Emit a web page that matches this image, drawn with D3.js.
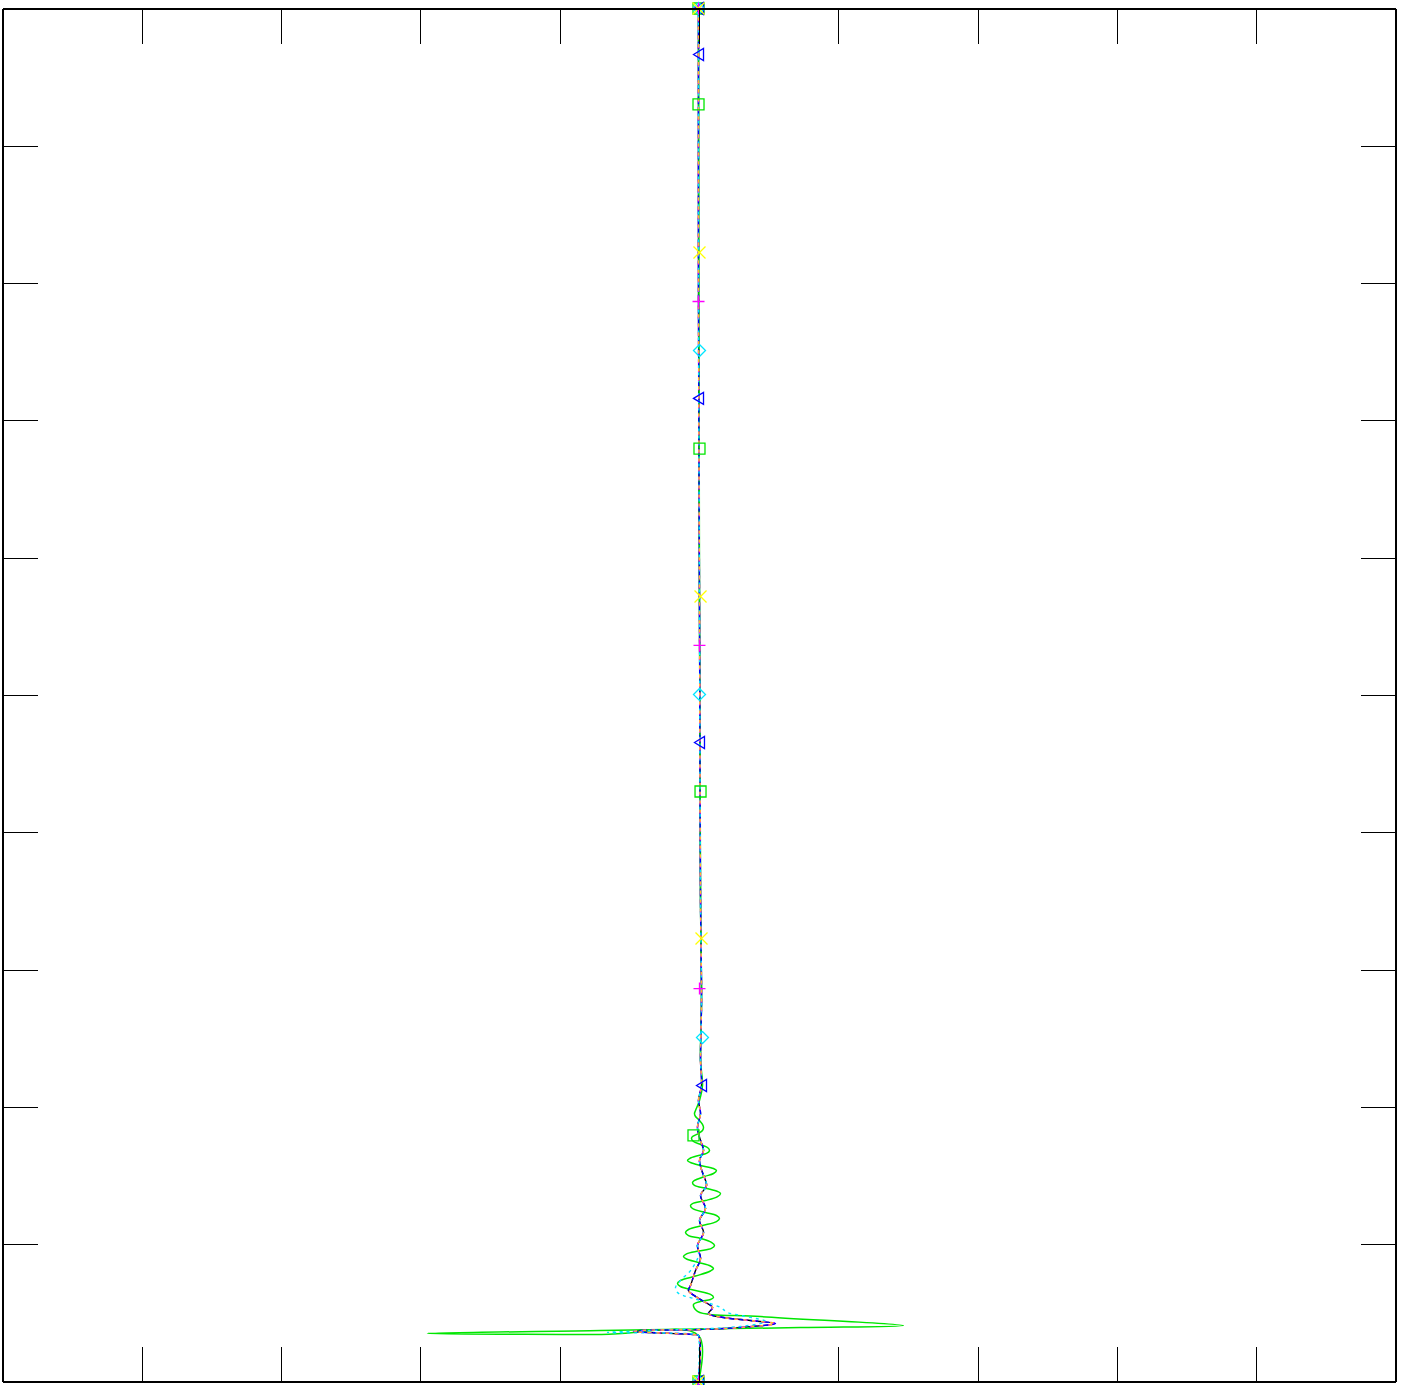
<!DOCTYPE html>
<html>
<head>
<meta charset="utf-8">
<script src="https://cdn.jsdelivr.net/npm/d3@7"></script>
<style>
  html, body { margin: 0; padding: 0; background: #fff; }
  svg { display: block; }
</style>
</head>
<body>
<svg id="chart" width="1401" height="1385"></svg>
<script>
// ---------- data (x in [-100,100], y in [0,100]) ----------
const xTicks = [-100, -80, -60, -40, -20, 0, 20, 40, 60, 80, 100];
const yTicks = [0, 10, 20, 30, 40, 50, 60, 70, 80, 90, 100];

const centralPath = [
  [-0.07, 100], [-0.07, 78.73], [0.07, 56.88], [0.22, 35.03], [0.36, 27.75],
  [0.22, 23.38], [0.36, 21.56], [-0.07, 20.47], [0.22, 19.52], [-0.22, 18.50],
  [0.22, 17.55], [0.65, 16.82], [0.07, 16.10], [0.50, 15.22], [1.08, 14.28],
  [0.22, 13.55], [0.93, 12.60], [0.07, 11.73], [0.65, 10.85], [-0.22, 9.91],
  [0.22, 8.96], [-0.50, 8.08], [-1.22, 6.99], [-1.51, 6.63], [-0.07, 6.05],
  [1.94, 5.39], [1.36, 4.95], [3.52, 4.66], [7.39, 4.44], [10.98, 4.22],
  [5.96, 3.93], [0.22, 3.79], [-8.40, 3.71], [-9.40, 3.64], [-0.79, 3.42],
  [-0.07, 3.35], [-0.07, 0]
];

const greenPath = [
  [-0.07, 100], [0.07, 56.88], [0.22, 35.03], [0.36, 27.75], [0.22, 23.38],
  [0.50, 21.56], [0.07, 20.47],
  [-0.50, 19.74], [-0.65, 19.52], [-0.50, 19.30],
  [0.07, 19.01],
  [0.50, 18.72], [0.65, 18.50], [0.50, 18.28],
  [-0.07, 18.06],
  [-0.93, 17.84], [-1.08, 17.70], [-0.79, 17.48],
  [0.22, 17.26],
  [1.22, 17.04], [1.51, 16.82], [1.08, 16.61],
  [-0.07, 16.46],
  [-1.36, 16.24], [-1.65, 16.10], [-1.22, 15.95],
  [0.22, 15.73],
  [2.08, 15.51], [2.51, 15.37], [2.08, 15.15],
  [0.79, 14.93],
  [-0.65, 14.64], [-0.93, 14.49], [-0.65, 14.28],
  [1.08, 14.06],
  [2.66, 13.84], [3.09, 13.69], [2.66, 13.47],
  [0.93, 13.18],
  [-0.93, 12.96], [-1.22, 12.82], [-0.93, 12.60],
  [0.93, 12.31],
  [2.51, 12.09], [2.94, 11.87], [2.51, 11.65],
  [0.50, 11.36],
  [-1.51, 11.07], [-1.94, 10.85], [-1.51, 10.63],
  [0.22, 10.42],
  [1.79, 10.13], [2.23, 9.91], [1.79, 9.69],
  [-0.07, 9.50],
  [-1.79, 9.29], [-2.23, 9.10], [-1.79, 8.92],
  [-0.07, 8.67],
  [1.65, 8.41], [2.08, 8.23], [1.65, 8.05],
  [-0.50, 7.68],
  [-2.66, 7.36], [-3.09, 7.14], [-2.66, 6.92],
  [-0.50, 6.63],
  [1.65, 6.34], [2.08, 6.12], [1.65, 5.97],
  [0.22, 5.83], [-0.79, 5.61], [-0.22, 5.10],
  [8.83, 4.73], [29.36, 4.08], [14.57, 3.93], [-14.14, 3.71],
  [-38.98, 3.50], [-14.14, 3.42], [-0.07, 3.35], [-0.07, 0]
];

const cyanPath = [
  [-0.07, 100], [-0.07, 78.73], [0.07, 56.88], [0.22, 35.03], [0.36, 27.75],
  [0.22, 23.38], [0.36, 21.56], [-0.07, 20.47], [0.22, 19.52], [-0.22, 18.50],
  [0.22, 17.55], [0.65, 16.82], [0.07, 16.10], [0.50, 15.22], [1.08, 14.28],
  [0.22, 13.55], [0.93, 12.60], [0.07, 11.73], [0.65, 10.85], [-0.22, 9.91],
  [-0.07, 9.18], [-1.22, 8.08], [-2.66, 7.36], [-3.37, 6.85], [-3.09, 6.48],
  [-2.23, 6.26], [-0.79, 6.05], [3.09, 5.39], [4.09, 5.03], [5.96, 4.81],
  [9.55, 4.37], [5.96, 4.01], [-6.96, 3.71], [-13.14, 3.57], [-0.22, 3.42],
  [-0.07, 3.35], [-0.07, 0]
];

const triMarkers = [[-0.07, 100], [-0.07, 96.65], [-0.07, 71.60], [0.07, 46.54], [0.36, 21.56], [-0.07, 0]];
const sqMarkers = [[-0.07, 100], [-0.07, 93.01], [0.07, 67.95], [0.22, 42.97], [-0.79, 17.92], [-0.07, 0]];
const xMarkers = [[-0.07, 100], [0.07, 82.23], [0.22, 57.17], [0.36, 32.27], [-0.07, 0]];
const plusMarkers = [[-0.07, 100], [-0.07, 78.66], [0.07, 53.61], [0.07, 28.62], [-0.07, 0]];
const diaMarkers = [[-0.07, 100], [0.07, 75.09], [0.07, 50.04], [0.50, 25.05], [-0.07, 0]];

// ---------- chart ----------
const svg = d3.select("#chart");
const x = d3.scaleLinear().domain([-100, 100]).range([2.5, 1395.5]);
const y = d3.scaleLinear().domain([0, 100]).range([1381.5, 8.5]);

const line = d3.line().x(d => x(d[0])).y(d => y(d[1])).curve(d3.curveCatmullRom.alpha(0.5));

const series = [
  { data: centralPath, color: "#000000", dash: null, w: 1.4 },
  { data: greenPath, color: "#00e600", dash: null, w: 1.5 },
  { data: centralPath, color: "#0000ff", dash: "8,3", w: 1.4 },
  { data: cyanPath, color: "#00e5ff", dash: "3,4", w: 1.4 },
  { data: centralPath, color: "#ff00ff", dash: "4,5", w: 1.4 },
  { data: centralPath, color: "#ffc020", dash: "3,6", w: 1.4 }
];

const g = svg.append("g");
series.forEach(s => {
  g.append("path")
    .datum(s.data)
    .attr("d", line)
    .attr("fill", "none")
    .attr("stroke", s.color)
    .attr("stroke-width", s.w)
    .attr("stroke-dasharray", s.dash);
});

// markers
const mk = svg.append("g").attr("fill", "none").attr("stroke-width", 1.3);
function drawMarkers(data, color, pathFn) {
  mk.selectAll(null).data(data).enter().append("path")
    .attr("transform", d => `translate(${x(d[0])},${y(d[1])})`)
    .attr("d", pathFn)
    .attr("stroke", color);
}
drawMarkers(sqMarkers, "#00e600", () => "M-5.5,-5.5H5.5V5.5H-5.5Z");
drawMarkers(triMarkers, "#0000ff", () => "M-5,0L5,-6L5,6Z");
drawMarkers(diaMarkers, "#00e5ff", () => "M0,-6L6,0L0,6L-6,0Z");
drawMarkers(plusMarkers, "#ff00ff", () => "M-6,0H6M0,-6V6");
drawMarkers(xMarkers, "#ffff00", () => "M-6,-6L6,6M-6,6L6,-6");

// axes (ticks inward, no labels)
const axG = svg.append("g").attr("shape-rendering", "crispEdges");
const tickLen = -35;
axG.append("g").attr("transform", `translate(0,${y(100)})`)
  .call(d3.axisTop(x).tickValues(xTicks).tickSizeInner(tickLen).tickSizeOuter(0).tickFormat(""));
axG.append("g").attr("transform", `translate(0,${y(0)})`)
  .call(d3.axisBottom(x).tickValues(xTicks).tickSizeInner(tickLen).tickSizeOuter(0).tickFormat(""));
axG.append("g").attr("transform", `translate(${x(-100)},0)`)
  .call(d3.axisLeft(y).tickValues(yTicks).tickSizeInner(tickLen).tickSizeOuter(0).tickFormat(""));
axG.append("g").attr("transform", `translate(${x(100)},0)`)
  .call(d3.axisRight(y).tickValues(yTicks).tickSizeInner(tickLen).tickSizeOuter(0).tickFormat(""));
axG.selectAll("path.domain").attr("stroke", "#000").attr("stroke-width", 1.3);
axG.selectAll(".tick line").attr("stroke", "#000").attr("stroke-width", 1.1);
</script>
</body>
</html>
